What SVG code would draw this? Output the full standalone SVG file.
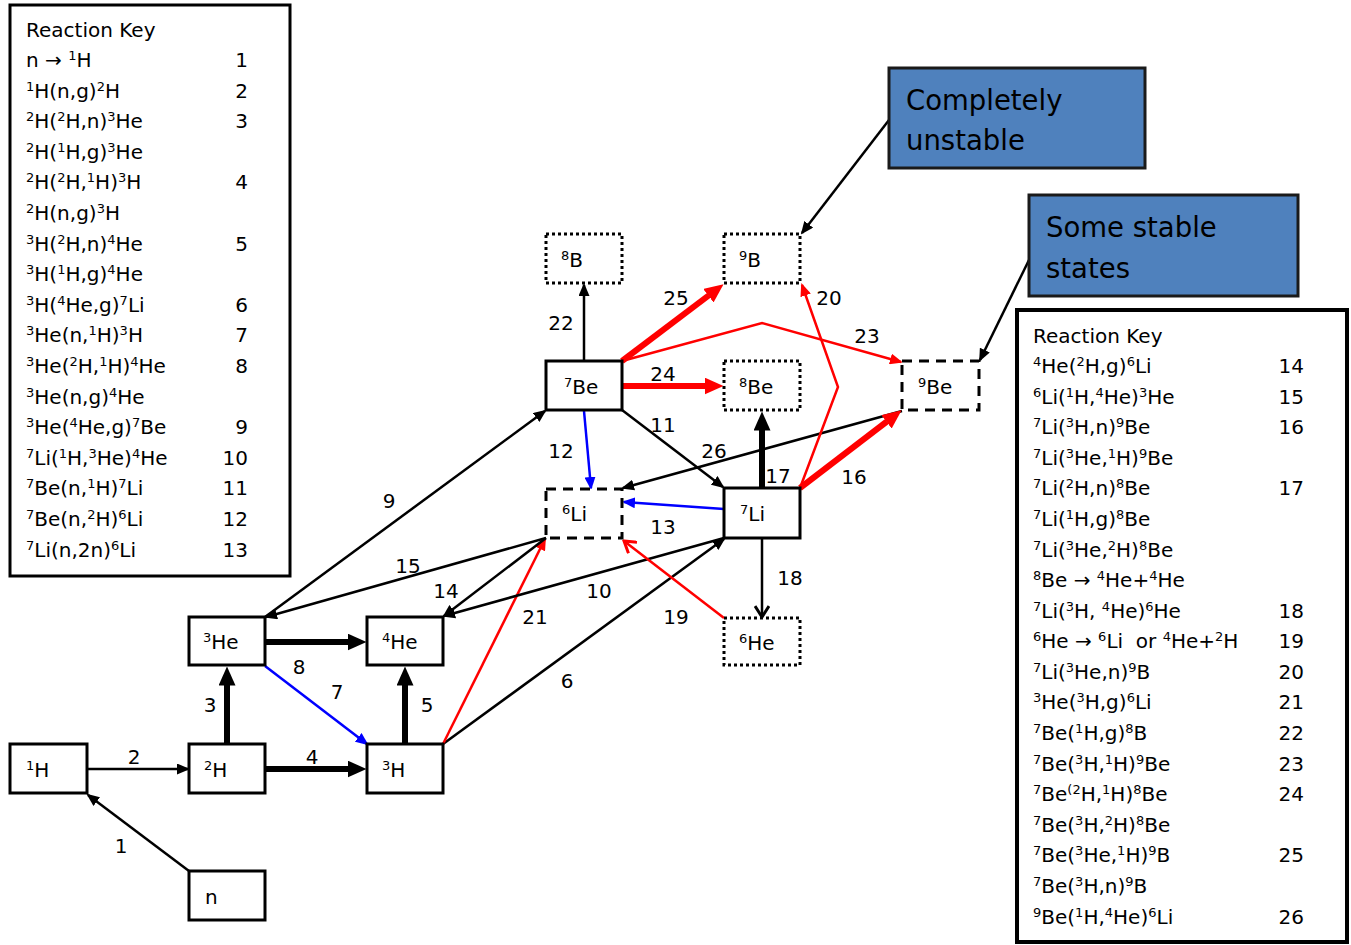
<svg xmlns="http://www.w3.org/2000/svg" width="1351" height="945" viewBox="0 0 1351 945">
<style>
text{font-family:"DejaVu Sans","Liberation Sans",sans-serif;font-size:20px;fill:#000}
.s{font-size:13px;baseline-shift:super}
.num{text-anchor:end}
.lbl{text-anchor:middle}
.box{fill:#fff;stroke:#000;stroke-width:3}
.dot{fill:#fff;stroke:#000;stroke-width:3;stroke-dasharray:3 3}
.dash{fill:#fff;stroke:#000;stroke-width:3;stroke-dasharray:10 7}
.key{fill:#fff;stroke:#000}
.call{fill:#4f81bd;stroke:#1a1a1a;stroke-width:3}
.ct{font-size:27.5px}
.k{fill:none;stroke:#000;stroke-width:2.5}
.kt{fill:none;stroke:#000;stroke-width:6}
.r{fill:none;stroke:#f00;stroke-width:2.5}
.rt{fill:none;stroke:#f00;stroke-width:6}
.b{fill:none;stroke:#00f;stroke-width:2.5}
</style>
<defs>
<marker id="ak" markerUnits="userSpaceOnUse" viewBox="0 0 13 11" refX="11" refY="5.5" markerWidth="13" markerHeight="11" orient="auto"><path d="M0,0 L13,5.5 L0,11 z" fill="#000"/></marker>
<marker id="ar" markerUnits="userSpaceOnUse" viewBox="0 0 13 11" refX="11" refY="5.5" markerWidth="13" markerHeight="11" orient="auto"><path d="M0,0 L13,5.5 L0,11 z" fill="#f00"/></marker>
<marker id="ab" markerUnits="userSpaceOnUse" viewBox="0 0 13 11" refX="11" refY="5.5" markerWidth="13" markerHeight="11" orient="auto"><path d="M0,0 L13,5.5 L0,11 z" fill="#00f"/></marker>
<marker id="akt" markerUnits="userSpaceOnUse" viewBox="0 0 19 17" refX="0.5" refY="8.5" markerWidth="19" markerHeight="17" orient="auto"><path d="M0,0 L19,8.5 L0,17 z" fill="#000"/></marker>
<marker id="art" markerUnits="userSpaceOnUse" viewBox="0 0 19 17" refX="0.5" refY="8.5" markerWidth="19" markerHeight="17" orient="auto"><path d="M0,0 L19,8.5 L0,17 z" fill="#f00"/></marker>
<marker id="vk" markerUnits="userSpaceOnUse" viewBox="0 0 14 16" refX="12" refY="8" markerWidth="14" markerHeight="16" orient="auto"><path d="M1,1 L12,8 L1,15" fill="none" stroke="#000" stroke-width="3"/></marker>
<marker id="vr" markerUnits="userSpaceOnUse" viewBox="0 0 14 16" refX="12" refY="8" markerWidth="14" markerHeight="16" orient="auto"><path d="M1,1 L12,8 L1,15" fill="none" stroke="#f00" stroke-width="3"/></marker>
</defs>

<g id="key-left">
<rect class="key" x="10" y="5" width="280" height="571" stroke-width="3"/>
<text x="26" y="37">Reaction Key</text>
<text x="26" y="67">n → <tspan class="s">1</tspan>H</text><text class="num" x="248" y="67">1</text>
<text x="26" y="98"><tspan class="s">1</tspan>H(n,g)<tspan class="s">2</tspan>H</text><text class="num" x="248" y="98">2</text>
<text x="26" y="128"><tspan class="s">2</tspan>H(<tspan class="s">2</tspan>H,n)<tspan class="s">3</tspan>He</text><text class="num" x="248" y="128">3</text>
<text x="26" y="159"><tspan class="s">2</tspan>H(<tspan class="s">1</tspan>H,g)<tspan class="s">3</tspan>He</text>
<text x="26" y="189"><tspan class="s">2</tspan>H(<tspan class="s">2</tspan>H,<tspan class="s">1</tspan>H)<tspan class="s">3</tspan>H</text><text class="num" x="248" y="189">4</text>
<text x="26" y="220"><tspan class="s">2</tspan>H(n,g)<tspan class="s">3</tspan>H</text>
<text x="26" y="251"><tspan class="s">3</tspan>H(<tspan class="s">2</tspan>H,n)<tspan class="s">4</tspan>He</text><text class="num" x="248" y="251">5</text>
<text x="26" y="281"><tspan class="s">3</tspan>H(<tspan class="s">1</tspan>H,g)<tspan class="s">4</tspan>He</text>
<text x="26" y="312"><tspan class="s">3</tspan>H(<tspan class="s">4</tspan>He,g)<tspan class="s">7</tspan>Li</text><text class="num" x="248" y="312">6</text>
<text x="26" y="342"><tspan class="s">3</tspan>He(n,<tspan class="s">1</tspan>H)<tspan class="s">3</tspan>H</text><text class="num" x="248" y="342">7</text>
<text x="26" y="373"><tspan class="s">3</tspan>He(<tspan class="s">2</tspan>H,<tspan class="s">1</tspan>H)<tspan class="s">4</tspan>He</text><text class="num" x="248" y="373">8</text>
<text x="26" y="404"><tspan class="s">3</tspan>He(n,g)<tspan class="s">4</tspan>He</text>
<text x="26" y="434"><tspan class="s">3</tspan>He(<tspan class="s">4</tspan>He,g)<tspan class="s">7</tspan>Be</text><text class="num" x="248" y="434">9</text>
<text x="26" y="465"><tspan class="s">7</tspan>Li(<tspan class="s">1</tspan>H,<tspan class="s">3</tspan>He)<tspan class="s">4</tspan>He</text><text class="num" x="248" y="465">10</text>
<text x="26" y="495"><tspan class="s">7</tspan>Be(n,<tspan class="s">1</tspan>H)<tspan class="s">7</tspan>Li</text><text class="num" x="248" y="495">11</text>
<text x="26" y="526"><tspan class="s">7</tspan>Be(n,<tspan class="s">2</tspan>H)<tspan class="s">6</tspan>Li</text><text class="num" x="248" y="526">12</text>
<text x="26" y="557"><tspan class="s">7</tspan>Li(n,2n)<tspan class="s">6</tspan>Li</text><text class="num" x="248" y="557">13</text>
</g>

<g id="key-right">
<rect class="key" x="1017" y="310" width="330" height="632" stroke-width="4"/>
<text x="1033" y="343">Reaction Key</text>
<text x="1033" y="373"><tspan class="s">4</tspan>He(<tspan class="s">2</tspan>H,g)<tspan class="s">6</tspan>Li</text><text class="num" x="1304" y="373">14</text>
<text x="1033" y="404"><tspan class="s">6</tspan>Li(<tspan class="s">1</tspan>H,<tspan class="s">4</tspan>He)<tspan class="s">3</tspan>He</text><text class="num" x="1304" y="404">15</text>
<text x="1033" y="434"><tspan class="s">7</tspan>Li(<tspan class="s">3</tspan>H,n)<tspan class="s">9</tspan>Be</text><text class="num" x="1304" y="434">16</text>
<text x="1033" y="465"><tspan class="s">7</tspan>Li(<tspan class="s">3</tspan>He,<tspan class="s">1</tspan>H)<tspan class="s">9</tspan>Be</text>
<text x="1033" y="495"><tspan class="s">7</tspan>Li(<tspan class="s">2</tspan>H,n)<tspan class="s">8</tspan>Be</text><text class="num" x="1304" y="495">17</text>
<text x="1033" y="526"><tspan class="s">7</tspan>Li(<tspan class="s">1</tspan>H,g)<tspan class="s">8</tspan>Be</text>
<text x="1033" y="557"><tspan class="s">7</tspan>Li(<tspan class="s">3</tspan>He,<tspan class="s">2</tspan>H)<tspan class="s">8</tspan>Be</text>
<text x="1033" y="587"><tspan class="s">8</tspan>Be → <tspan class="s">4</tspan>He+<tspan class="s">4</tspan>He</text>
<text x="1033" y="618"><tspan class="s">7</tspan>Li(<tspan class="s">3</tspan>H, <tspan class="s">4</tspan>He)<tspan class="s">6</tspan>He</text><text class="num" x="1304" y="618">18</text>
<text x="1033" y="648" xml:space="preserve"><tspan class="s">6</tspan>He → <tspan class="s">6</tspan>Li  or <tspan class="s">4</tspan>He+<tspan class="s">2</tspan>H</text><text class="num" x="1304" y="648">19</text>
<text x="1033" y="679"><tspan class="s">7</tspan>Li(<tspan class="s">3</tspan>He,n)<tspan class="s">9</tspan>B</text><text class="num" x="1304" y="679">20</text>
<text x="1033" y="709"><tspan class="s">3</tspan>He(<tspan class="s">3</tspan>H,g)<tspan class="s">6</tspan>Li</text><text class="num" x="1304" y="709">21</text>
<text x="1033" y="740"><tspan class="s">7</tspan>Be(<tspan class="s">1</tspan>H,g)<tspan class="s">8</tspan>B</text><text class="num" x="1304" y="740">22</text>
<text x="1033" y="771"><tspan class="s">7</tspan>Be(<tspan class="s">3</tspan>H,<tspan class="s">1</tspan>H)<tspan class="s">9</tspan>Be</text><text class="num" x="1304" y="771">23</text>
<text x="1033" y="801"><tspan class="s">7</tspan>Be<tspan class="s">(2</tspan>H,<tspan class="s">1</tspan>H)<tspan class="s">8</tspan>Be</text><text class="num" x="1304" y="801">24</text>
<text x="1033" y="832"><tspan class="s">7</tspan>Be(<tspan class="s">3</tspan>H,<tspan class="s">2</tspan>H)<tspan class="s">8</tspan>Be</text>
<text x="1033" y="862"><tspan class="s">7</tspan>Be(<tspan class="s">3</tspan>He,<tspan class="s">1</tspan>H)<tspan class="s">9</tspan>B</text><text class="num" x="1304" y="862">25</text>
<text x="1033" y="893"><tspan class="s">7</tspan>Be(<tspan class="s">3</tspan>H,n)<tspan class="s">9</tspan>B</text>
<text x="1033" y="924"><tspan class="s">9</tspan>Be(<tspan class="s">1</tspan>H,<tspan class="s">4</tspan>He)<tspan class="s">6</tspan>Li</text><text class="num" x="1304" y="924">26</text>
</g>

<g id="connectors">
<line class="k" x1="189" y1="871" x2="88" y2="795" marker-end="url(#ak)"/>
<line class="k" x1="87" y1="769" x2="188" y2="769" marker-end="url(#ak)"/>
<line class="kt" x1="227" y1="744" x2="227" y2="685" marker-end="url(#akt)"/>
<line class="kt" x1="265" y1="769" x2="348" y2="769" marker-end="url(#akt)"/>
<line class="kt" x1="405" y1="744" x2="405" y2="685" marker-end="url(#akt)"/>
<line class="kt" x1="265" y1="642" x2="348" y2="642" marker-end="url(#akt)"/>
<line class="b" x1="265" y1="666" x2="367" y2="744" marker-end="url(#ab)"/>
<line class="k" x1="443" y1="744" x2="724" y2="539" marker-end="url(#ak)"/>
<line class="r" x1="443" y1="744" x2="545" y2="539" marker-end="url(#ar)"/>
<line class="k" x1="265" y1="617" x2="545" y2="411" marker-end="url(#ak)"/>
<line class="k" x1="546" y1="538" x2="266" y2="617" marker-end="url(#ak)"/>
<line class="k" x1="546" y1="538" x2="444" y2="616" marker-end="url(#ak)"/>
<line class="k" x1="724" y1="538" x2="444" y2="616" marker-end="url(#ak)"/>
<line class="k" x1="622" y1="410" x2="723" y2="487" marker-end="url(#ak)"/>
<line class="b" x1="584" y1="411" x2="591" y2="488" marker-end="url(#ab)"/>
<line class="b" x1="724" y1="509" x2="624" y2="502" marker-end="url(#ab)"/>
<line class="k" x1="902" y1="411" x2="623" y2="488" marker-end="url(#ak)"/>
<line class="k" x1="762" y1="538" x2="762" y2="617" marker-end="url(#vk)"/>
<line class="r" x1="724" y1="618" x2="624" y2="541" marker-end="url(#vr)"/>
<line class="kt" x1="762" y1="488" x2="762" y2="430" marker-end="url(#akt)"/>
<line class="rt" x1="800" y1="488" x2="886.9" y2="421.5" marker-end="url(#art)"/>
<polyline class="r" points="800,488 838,387 802,285" marker-end="url(#ar)"/>
<line class="k" x1="584" y1="361" x2="584" y2="285" marker-end="url(#ak)"/>
<polyline class="r" points="622,361 762,323 901,362" marker-end="url(#ar)"/>
<line class="rt" x1="622" y1="386" x2="705" y2="386" marker-end="url(#art)"/>
<line class="rt" x1="622" y1="361" x2="708.8" y2="295.4" marker-end="url(#art)"/>
<line class="k" x1="889" y1="120" x2="802" y2="233" marker-end="url(#ak)"/>
<line class="k" x1="1029" y1="260" x2="980" y2="360" marker-end="url(#ak)"/>
</g>

<g id="connector-labels">
<text class="lbl" x="121" y="853">1</text>
<text class="lbl" x="134" y="764">2</text>
<text class="lbl" x="210" y="712">3</text>
<text class="lbl" x="312" y="764">4</text>
<text class="lbl" x="427" y="712">5</text>
<text class="lbl" x="567" y="688">6</text>
<text class="lbl" x="337" y="699">7</text>
<text class="lbl" x="299" y="674">8</text>
<text class="lbl" x="389" y="508">9</text>
<text class="lbl" x="599" y="598">10</text>
<text class="lbl" x="663" y="432">11</text>
<text class="lbl" x="561" y="458">12</text>
<text class="lbl" x="663" y="534">13</text>
<text class="lbl" x="446" y="598">14</text>
<text class="lbl" x="408" y="573">15</text>
<text class="lbl" x="854" y="484">16</text>
<text class="lbl" x="778" y="483">17</text>
<text class="lbl" x="790" y="585">18</text>
<text class="lbl" x="676" y="624">19</text>
<text class="lbl" x="829" y="305">20</text>
<text class="lbl" x="535" y="624">21</text>
<text class="lbl" x="561" y="330">22</text>
<text class="lbl" x="867" y="343">23</text>
<text class="lbl" x="663" y="381">24</text>
<text class="lbl" x="676" y="305">25</text>
<text class="lbl" x="714" y="458">26</text>
</g>

<g id="n"><rect class="box" x="189" y="871" width="76" height="49"/><text x="205" y="904">n</text></g>
<g id="H1"><rect class="box" x="10" y="744" width="77" height="49"/><text x="26" y="777"><tspan class="s">1</tspan>H</text></g>
<g id="H2"><rect class="box" x="189" y="744" width="76" height="49"/><text x="204" y="777"><tspan class="s">2</tspan>H</text></g>
<g id="H3"><rect class="box" x="367" y="744" width="76" height="49"/><text x="382" y="777"><tspan class="s">3</tspan>H</text></g>
<g id="He3"><rect class="box" x="189" y="617" width="76" height="48"/><text x="203" y="649"><tspan class="s">3</tspan>He</text></g>
<g id="He4"><rect class="box" x="367" y="617" width="76" height="48"/><text x="382" y="649"><tspan class="s">4</tspan>He</text></g>
<g id="Be7"><rect class="box" x="546" y="361" width="76" height="49"/><text x="564" y="394"><tspan class="s">7</tspan>Be</text></g>
<g id="Li6"><rect class="dash" x="546" y="489" width="76" height="49"/><text x="562" y="521"><tspan class="s">6</tspan>Li</text></g>
<g id="Li7"><rect class="box" x="724" y="488" width="76" height="50"/><text x="740" y="521"><tspan class="s">7</tspan>Li</text></g>
<g id="B8"><rect class="dot" x="546" y="234" width="76" height="49"/><text x="561" y="267"><tspan class="s">8</tspan>B</text></g>
<g id="B9"><rect class="dot" x="724" y="234" width="76" height="49"/><text x="739" y="267"><tspan class="s">9</tspan>B</text></g>
<g id="Be8"><rect class="dot" x="724" y="361" width="76" height="49"/><text x="739" y="394"><tspan class="s">8</tspan>Be</text></g>
<g id="Be9"><rect class="dash" x="902" y="361" width="77" height="49"/><text x="918" y="394"><tspan class="s">9</tspan>Be</text></g>
<g id="He6"><rect class="dot" x="724" y="618" width="76" height="47"/><text x="739" y="650"><tspan class="s">6</tspan>He</text></g>

<g id="callout-unstable"><rect class="call" x="889" y="68" width="256" height="100"/><text class="ct" x="906" y="110">Completely</text><text class="ct" x="906" y="150">unstable</text></g>
<g id="callout-stable"><rect class="call" x="1029" y="195" width="269" height="101"/><text class="ct" x="1046" y="237">Some stable</text><text class="ct" x="1046" y="278">states</text></g>
</svg>
